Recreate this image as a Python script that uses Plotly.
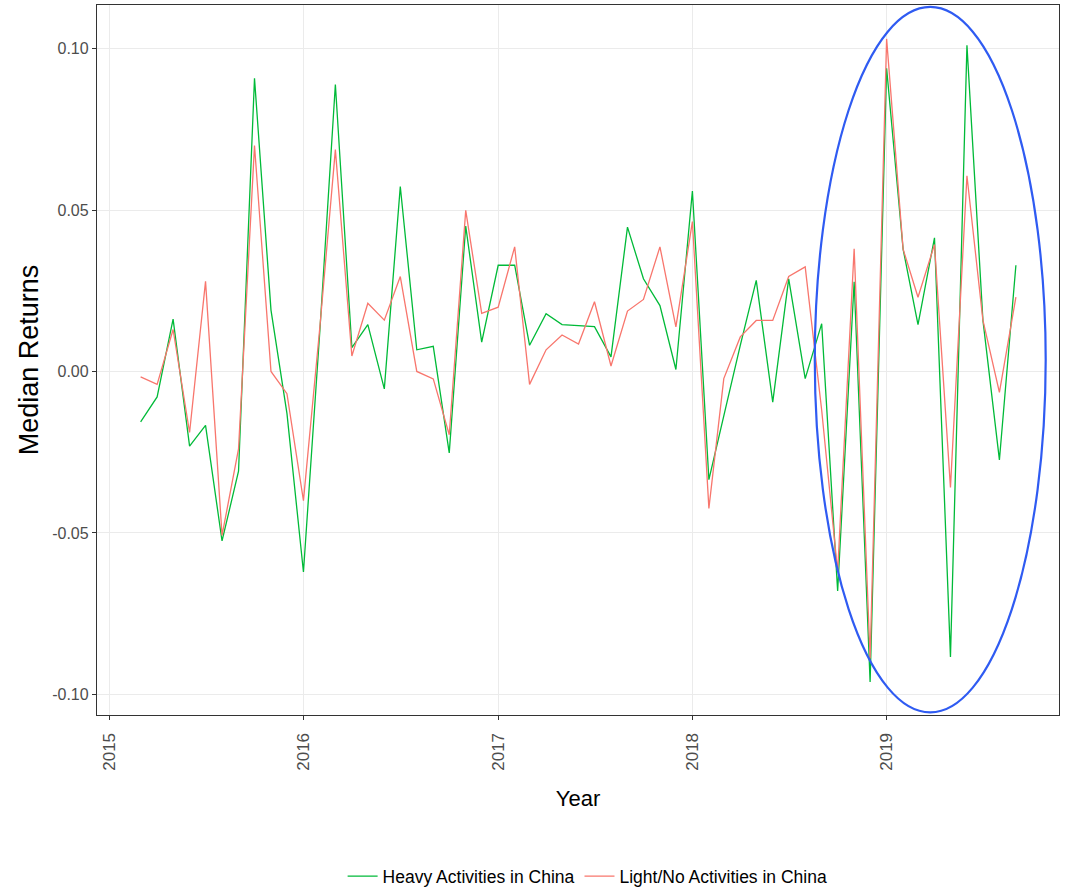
import plotly.graph_objects as go
import pandas as pd

# Monthly dates, Mar 2015 .. Sep 2019
dates = pd.date_range("2015-03-01", "2019-09-01", freq="MS")

heavy = [
    # 2015 Mar..Dec
    -0.0156, -0.0079, 0.0162, -0.0231, -0.0167, -0.0525, -0.0309, 0.0908, 0.0190, -0.0130,
    # 2016
    -0.0621, 0.0130, 0.0889, 0.0074, 0.0145, -0.0054, 0.0573, 0.0067, 0.0078, -0.0252, 0.0450, 0.0091,
    # 2017
    0.0329, 0.0329, 0.0081, 0.0179, 0.0145, 0.0142, 0.0139, 0.0045, 0.0447, 0.0287, 0.0204, 0.0006,
    # 2018
    0.0559, -0.0335, -0.0136, 0.0081, 0.0282, -0.0095, 0.0287, -0.0022, 0.0148, -0.0680, 0.0278, -0.0962,
    # 2019 Jan..Sep
    0.0939, 0.0379, 0.0145, 0.0414, -0.0884, 0.1010, 0.0159, -0.0274, 0.0329,
]

light = [
    # 2015 Mar..Dec
    -0.0017, -0.0040, 0.0130, -0.0189, 0.0279, -0.0508, -0.0240, 0.0700, 0.0000, -0.0069,
    # 2016
    -0.0400, 0.0140, 0.0687, 0.0048, 0.0211, 0.0159, 0.0294, 0.0000, -0.0023, -0.0196, 0.0499, 0.0180,
    # 2017
    0.0199, 0.0386, -0.0040, 0.0067, 0.0113, 0.0085, 0.0216, 0.0017, 0.0187, 0.0223, 0.0386, 0.0138,
    # 2018
    0.0464, -0.0424, -0.0022, 0.0107, 0.0158, 0.0158, 0.0294, 0.0324, -0.0120, -0.0620, 0.0380, -0.0889,
    # 2019 Jan..Sep
    0.1030, 0.0379, 0.0230, 0.0393, -0.0359, 0.0606, 0.0159, -0.0065, 0.0230,
]

series_names = ["Heavy Activities in China", "Light/No Activities in China"]
series_colors = ["#00BA38", "#F8766D"]

year_ticks = ["2015-01-01", "2016-01-01", "2017-01-01", "2018-01-01", "2019-01-01"]
year_labels = ["2015", "2016", "2017", "2018", "2019"]
y_ticks = [-0.10, -0.05, 0.00, 0.05, 0.10]
y_labels = ["-0.10", "-0.05", "0.00", "0.05", "0.10"]

# highlighted region (ellipse), in data coordinates
ellipse_x = ["2018-08-19", "2019-10-27"]
ellipse_y = [-0.1056, 0.1129]

fig = go.Figure()
for name, vals, col in zip(series_names, [heavy, light], series_colors):
    fig.add_trace(go.Scatter(
        x=dates, y=vals, mode="lines", name=name,
        line=dict(color=col, width=1.3),
    ))

fig.add_shape(
    type="circle", xref="x", yref="y",
    x0=ellipse_x[0], x1=ellipse_x[1], y0=ellipse_y[0], y1=ellipse_y[1],
    line=dict(color="#2F5BF2", width=2.2), fillcolor="rgba(0,0,0,0)",
)

font_family = "Liberation Sans, Arial, sans-serif"

fig.update_layout(
    width=1068, height=899,
    margin=dict(l=97, r=9, t=5, b=176),
    paper_bgcolor="white", plot_bgcolor="white",
    font=dict(family=font_family, color="black"),
    showlegend=True,
    legend=dict(
        orientation="h", x=0.51, xanchor="center", y=-0.227, yanchor="middle",
        font=dict(size=17.5, color="black"), bgcolor="rgba(0,0,0,0)",
        traceorder="normal",
    ),
    xaxis=dict(
        range=["2014-12-09", "2019-11-21"],
        tickmode="array", tickvals=year_ticks, ticktext=year_labels,
        tickangle=-90, tickfont=dict(size=17, color="#4D4D4D"),
        ticks="outside", ticklen=4, tickwidth=1.1, tickcolor="#333333",
        ticklabelstandoff=6,
        showgrid=True, gridcolor="#EBEBEB", gridwidth=1.1,
        showline=True, linecolor="#333333", linewidth=1.3, mirror=True,
        zeroline=False,
        title=dict(text="Year", font=dict(size=22, color="black"), standoff=20),
    ),
    yaxis=dict(
        range=[-0.1064, 0.1135],
        tickmode="array", tickvals=y_ticks, ticktext=y_labels,
        tickfont=dict(size=16, color="#4D4D4D"),
        ticks="outside", ticklen=4, tickwidth=1.1, tickcolor="#333333",
        showgrid=True, gridcolor="#EBEBEB", gridwidth=1.1,
        showline=True, linecolor="#333333", linewidth=1.3, mirror=True,
        zeroline=False,
        title=dict(text="Median Returns", font=dict(size=27, color="black"), standoff=5),
    ),
)

fig.write_html(
    "out.html",
    config={"displayModeBar": False},
    post_script="document.body.style.margin='0px';document.documentElement.style.overflow='hidden';",
)
